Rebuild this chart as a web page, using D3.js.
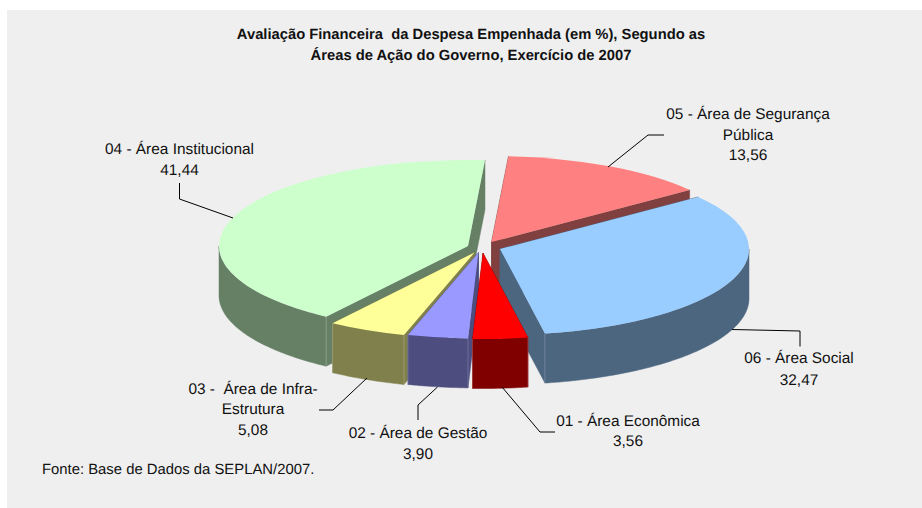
<!DOCTYPE html>
<html>
<head>
<meta charset="utf-8">
<script src="https://cdn.jsdelivr.net/npm/d3@7"></script>
<style>
    html, body { margin: 0; padding: 0; background: #fff; }
    svg { display: block; }
    text { font-family: "Liberation Sans", Arial, sans-serif; fill: #111; white-space: pre; text-rendering: geometricPrecision; }
</style>
</head>
<body>
<div id="chart"></div>
<script>
// values as printed on the chart, in pie order (clockwise)
const categories = [
    ["01 - Área Econômica"],
    ["02 - Área de Gestão"],
    ["03 -  Área de Infra-", "Estrutura"],
    ["04 - Área Institucional"],
    ["05 - Área de Segurança", "Pública"],
    ["06 - Área Social"]
]
const values = [3.56, 3.90, 5.08, 41.44, 13.56, 32.47]
const titleLines = [
    "Avaliação Financeira  da Despesa Empenhada (em %), Segundo as",
    "Áreas de Ação do Governo, Exercício de 2007"
]
const sourceNote = "Fonte: Base de Dados da SEPLAN/2007."

// styles and layout, separate from the data
const topColors = ["#ff0000", "#9999ff", "#ffff99", "#ccffcc", "#ff8080", "#99ccff"]
const sideColors = ["#800000", "#4d4d80", "#80804d", "#668066", "#804040", "#4d6680"]
const sliceCenters = [[483, 253], [478.5, 252.5], [474.5, 252.5], [468, 246], [491.5, 242], [500, 249]]
const labelBoxes = [
    { x: 628, lines: [426, 446] },
    { x: 418, lines: [438, 459] },
    { x: 253, lines: [394, 414, 435] },
    { x: 179.5, lines: [154, 175] },
    { x: 748, lines: [118.5, 140, 160] },
    { x: 799, lines: [363, 385] }
]
const leaders = [
    [[502, 387], [540, 432], [555, 432]],
    [[437.5, 387], [418, 405], [418, 420]],
    [[367, 378], [333, 410], [319, 410]],
    [[233, 218], [179.5, 199], [179.5, 183]],
    [[608, 167], [648, 135], [664, 135]],
    [[732, 329.5], [800, 331], [800, 346.5]]
]
const drawOrder = [4, 3, 5, 2, 1, 0]

const width = 922, height = 508
const rx = 249, ry = 86, depth = 49.5
const rad = Math.PI / 180
const firstAngle = 169.6 * rad

const svg = d3.select("#chart").append("svg")
    .attr("width", width)
    .attr("height", height)

// panel
svg.append("rect")
    .attr("x", 7).attr("y", 10)
    .attr("width", width - 7).attr("height", height - 10)
    .attr("fill", "#efefef")

const pie = d3.pie().sort(null)
    .startAngle(firstAngle)
    .endAngle(firstAngle + 2 * Math.PI)
const arcs = pie(values)

const arc = d3.arc().innerRadius(0).outerRadius(rx)
const line = d3.line()

// point on the rim of a slice, angle clockwise from top
const rim = (center, a, dy = 0) => [
    center[0] + rx * Math.sin(a),
    center[1] - ry * Math.cos(a) + dy
]

const slices = svg.append("g")

drawOrder.forEach((i) => {
    const d = arcs[i]
    const c = sliceCenters[i]
    const g = slices.append("g")

    // flat sides, from the apex out to both rim ends
    ;[d.startAngle, d.endAngle].forEach((a) => {
        const p = rim(c, a)
        g.append("path")
            .attr("d", line([c, p, [p[0], p[1] + depth], [c[0], c[1] + depth]]) + "Z")
            .attr("fill", sideColors[i])
            .attr("stroke", sideColors[i])
            .attr("stroke-width", 0.5)
    })

    // curved side, only the part turned to the front
    // angles past a full turn come back into 0..360 first
    const turn = d.startAngle >= 2 * Math.PI ? 2 * Math.PI : 0
    const from = Math.max(d.startAngle - turn, 90 * rad)
    const to = Math.min(d.endAngle - turn, 270 * rad)
    if (to > from) {
        const steps = d3.range(from, to, 1 * rad).concat([to])
        const front = steps.map((a) => rim(c, a))
        const back = steps.slice().reverse().map((a) => rim(c, a, depth))
        g.append("path")
            .attr("d", line(front.concat(back)) + "Z")
            .attr("fill", sideColors[i])
            .attr("stroke", sideColors[i])
            .attr("stroke-width", 0.5)
    }

    // faint seams where the faces meet
    const seams = [d.startAngle, d.endAngle]
        .filter((a) => Math.cos(a) < 0)
        .map((a) => rim(c, a))
    seams.forEach((p) => {
        g.append("line")
            .attr("x1", p[0]).attr("y1", p[1])
            .attr("x2", p[0]).attr("y2", p[1] + depth)
            .attr("stroke", "#fff")
            .attr("stroke-opacity", 0.2)
            .attr("stroke-width", 1)
    })

    // top
    g.append("path")
        .attr("d", arc(d))
        .attr("transform", `translate(${c[0]},${c[1]}) scale(1,${ry / rx})`)
        .attr("fill", topColors[i])
})

// leader lines
svg.append("g").selectAll("path")
    .data(leaders)
    .join("path")
    .attr("d", (d) => line(d))
    .attr("fill", "none")
    .attr("stroke", "#000")
    .attr("stroke-width", 1)

// labels
const formatValue = (v) => d3.format(".2f")(v).replace(".", ",")
categories.forEach((lines, i) => {
    const box = labelBoxes[i]
    lines.concat([formatValue(values[i])]).forEach((t, j) => {
        svg.append("text")
            .attr("x", box.x)
            .attr("y", box.lines[j])
            .attr("text-anchor", "middle")
            .attr("font-size", 15.4)
            .text(t)
    })
})

// title
titleLines.forEach((t, j) => {
    svg.append("text")
        .attr("x", 471)
        .attr("y", 38.5 + j * 21.5)
        .attr("text-anchor", "middle")
        .attr("font-size", 14.75)
        .attr("font-weight", "bold")
        .text(t)
})

svg.append("text")
    .attr("x", 42)
    .attr("y", 474)
    .attr("font-size", 14.85)
    .text(sourceNote)
</script>
</body>
</html>
